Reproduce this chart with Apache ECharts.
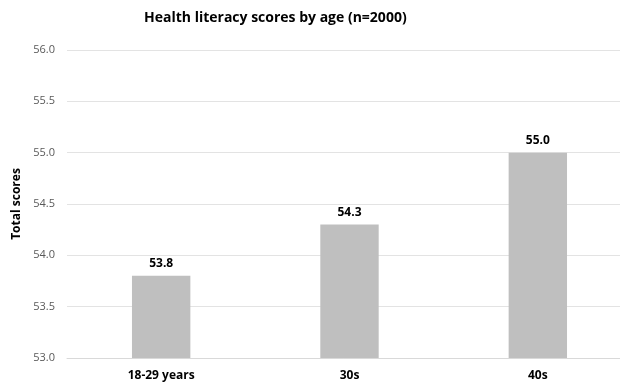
<!DOCTYPE html>
<html>
<head>
<meta charset="utf-8">
<script src="https://cdn.jsdelivr.net/npm/echarts@6/dist/echarts.min.js"></script>
<style>
  html, body { margin: 0; padding: 0; background: #fff; }
  #chart { width: 620px; height: 389px; }
</style>
</head>
<body>
<div id="chart"></div>
<script>
// Age groups and their mean total health literacy scores
const categories = ['18-29 years', '30s', '40s'];
const scores = [53.8, 54.3, 55.0];
const yTicks = { min: 53.0, max: 56.0, interval: 0.5 };

const FONT = '"Open Sans", "Noto Sans", sans-serif';

const chart = echarts.init(document.getElementById('chart'), null, { renderer: 'canvas' });
chart.setOption({
  animation: false,
  textStyle: { fontFamily: FONT },
  title: {
    text: 'Health literacy scores by age (n=2000)',
    left: 139,
    top: 6,
    textStyle: { fontFamily: FONT, fontSize: 14, fontWeight: 'bold', color: '#000' }
  },
  grid: { left: 67, top: 50, width: 565, height: 308, containLabel: false, outerBoundsMode: 'none' },
  xAxis: {
    type: 'category',
    data: categories,
    axisLine: { show: true, lineStyle: { color: '#d9d9d9', width: 1 } },
    axisTick: { show: false },
    axisLabel: { color: '#000', fontSize: 12, fontWeight: 'bold', margin: 12, fontFamily: FONT }
  },
  yAxis: {
    type: 'value',
    min: yTicks.min,
    max: yTicks.max,
    interval: yTicks.interval,
    name: 'Total scores',
    nameLocation: 'middle',
    nameGap: 43,
    nameRotate: 90,
    nameTextStyle: { color: '#000', fontSize: 12, fontWeight: 'bold', fontFamily: FONT },
    axisLine: { show: false },
    axisTick: { show: false },
    axisLabel: {
      color: '#595959', fontSize: 11, margin: 12, fontFamily: FONT,
      formatter: v => v.toFixed(1)
    },
    splitLine: { lineStyle: { color: '#e3e3e3', width: 1 } }
  },
  series: [{
    type: 'bar',
    data: scores,
    barWidth: '31%',
    itemStyle: { color: '#bfbfbf' },
    label: {
      show: true,
      position: 'top',
      distance: 6,
      color: '#000',
      fontSize: 12,
      fontWeight: 'bold',
      fontFamily: FONT,
      formatter: p => p.value.toFixed(1)
    }
  }]
});
</script>
</body>
</html>
